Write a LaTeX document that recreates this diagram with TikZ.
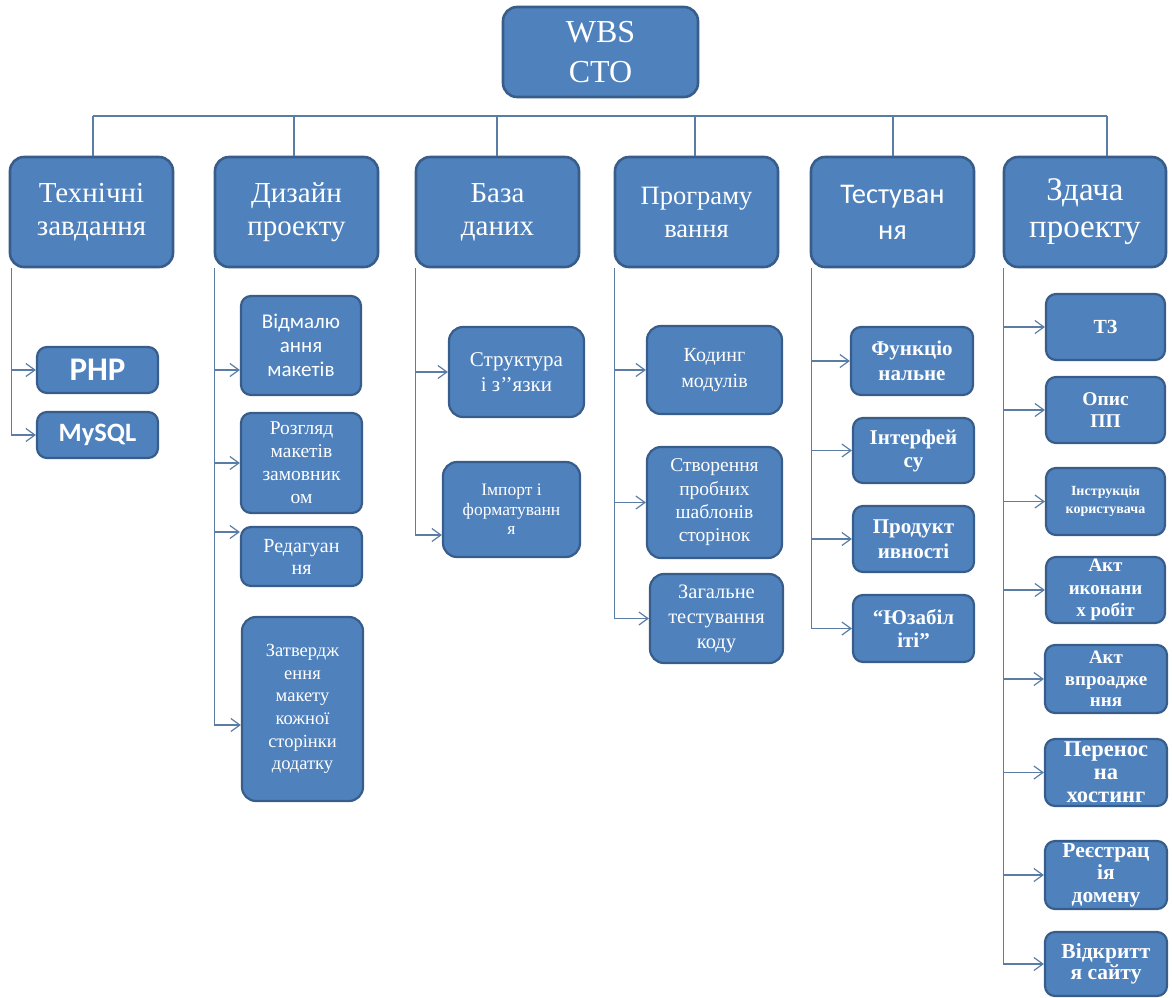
\documentclass[tikz,border=0pt]{standalone}
\usepackage{fontspec}
\setmainfont{Liberation Serif}
\newfontfamily\calfont{Carlito}
\usetikzlibrary{arrows.meta}
\definecolor{fillc}{HTML}{4F81BD}
\definecolor{bdr}{HTML}{385D8A}
\definecolor{linec}{HTML}{5A7DA6}
\newcommand\fs[2]{\fontsize{#1}{#2}\selectfont}
\newcommand\bx[7]{\node[box,#6,minimum width=#4,minimum height=#5] (#1) at (#2,#3) {#7};}
\tikzset{
  box/.style={draw=bdr, fill=fillc, line width=2.2pt, rounded corners=10pt, text=white, align=center, inner sep=0pt},
  lvlone/.style={rounded corners=14pt, line width=2.6pt, font=\fs{29}{33}},
  conn/.style={draw=linec, line width=1.2pt},
  arr/.style={conn, -{Straight Barb[length=9pt,width=13pt,line width=1.2pt]}},
}
\begin{document}
\begin{tikzpicture}[x=1pt,y=-1pt]
\useasboundingbox (0,0) rectangle (1172,997);
% root
\bx{wbs}{600.5}{52}{195}{90}{lvlone,font=\fs{32}{40}}{WBS\\CTO}
% level 1
\bx{t1}{91.5}{212}{163}{110}{lvlone}{Технічні\\завдання}
\bx{t2}{296.5}{212}{163}{110}{lvlone}{Дизайн\\проекту}
\bx{t3}{497.5}{212}{163}{110}{lvlone}{База\\даних}
\bx{t4}{696.5}{212}{163}{110}{lvlone,font=\fs{26.5}{33}}{Програму\\вання}
\bx{t5}{892.5}{212}{163}{110}{lvlone,font=\calfont\fs{28.5}{36}}{Тестуван\\ня}
\bx{t6}{1085}{212}{162}{110}{lvlone,font=\fs{33}{37}}{Здача\\проекту}
% bus
\coordinate (busL) at (93,116);
\coordinate (busR) at (1107,116);
\coordinate (d2) at (294,116);
\coordinate (d3) at (497,116);
\coordinate (d4) at (695,116);
\coordinate (d5) at (893,116);
\draw[conn] (busL) -- (busR);
\draw[conn] (busL) -- (busL |- t1.north);
\draw[conn] (d2) -- (d2 |- t2.north);
\draw[conn] (d3) -- (d3 |- t3.north);
\draw[conn] (d4) -- (d4 |- t4.north);
\draw[conn] (d5) -- (d5 |- t5.north);
\draw[conn] (busR) -- (busR |- t6.north);
% column 1
\bx{php}{97.5}{370}{121}{46}{font=\calfont\bfseries\fs{33}{36}}{PHP}
\bx{mysql}{97.5}{435}{121}{46}{font=\calfont\bfseries\fs{26.5}{30}}{MySQL}
\coordinate (s1) at ([xshift=3pt]t1.south west);
\draw[arr] (s1) |- (php.west);
\draw[arr] (s1) |- (mysql.west);
% column 2
\bx{vidm}{301}{345.5}{120}{99}{font=\calfont\fs{21}{24}}{Відмалю\\ання\\макетів}
\bx{rozg}{301.5}{463}{121}{100}{font=\fs{19.5}{23}}{Розгляд\\макетів\\замовник\\ом}
\bx{red}{301.5}{556.5}{121}{59}{font=\fs{20}{22}}{Редагуан\\ня}
\bx{zatv}{302.5}{709}{121}{184}{rounded corners=14pt,font=\fs{18.5}{22.6}}{Затвердж\\ення\\макету\\кожної\\сторінки\\додатку}
\coordinate (s2) at ([xshift=1pt]t2.south west);
\draw[arr] (s2) |- ([yshift=-24.5pt]vidm.west);
\draw[arr] (s2) |- (rozg.west);
\draw[arr] (s2) |- ([yshift=24.5pt]red.west);
\draw[arr] (s2) |- ([yshift=-16pt]zatv.west);
% column 3
\bx{strukt}{516.5}{372}{135}{90}{rounded corners=14pt,font=\fs{21}{25}}{Структура\\і з’’язки}
\bx{import}{511.5}{509.5}{137}{95}{rounded corners=14pt,font=\fs{17.5}{19.5}}{Імпорт і\\форматуванн\\я}
\coordinate (s3) at ([xshift=1pt]t3.south west);
\draw[arr] (s3) |- (strukt.west);
\draw[arr] (s3) |- ([yshift=-25.5pt]import.west);
% column 4
\bx{kod}{714.5}{370}{135}{88}{rounded corners=14pt,font=\fs{20}{26}}{Кодинг\\модулів}
\bx{stvor}{714.5}{502.5}{135}{111}{rounded corners=14pt,font=\fs{19.5}{23.3}}{Створення\\пробних\\шаблонів\\сторінок}
\bx{zagal}{716.5}{618.5}{133}{89}{rounded corners=14pt,font=\fs{20.5}{25}}{Загальне\\тестування\\коду}
\coordinate (s4) at ([xshift=1pt]t4.south west);
\draw[arr] (s4) |- (kod.west);
\draw[arr] (s4) |- (stvor.west);
\draw[arr] (s4) |- (zagal.west);
% column 5
\bx{func}{912}{361}{122}{68}{font=\bfseries\fs{21}{25}}{Функціо\\нальне}
\bx{intf}{913.5}{450.5}{121}{65}{font=\bfseries\fs{21}{23}}{Інтерфей\\су}
\bx{prod}{913.5}{539}{121}{66}{font=\bfseries\fs{21}{25}}{Продукт\\ивності}
\bx{uzab}{913.5}{628.5}{121}{67}{font=\bfseries\fs{21}{23}}{“Юзабіл\\іті”}
\coordinate (s5) at ([xshift=2pt]t5.south west);
\draw[arr] (s5) |- (func.west);
\draw[arr] (s5) |- (intf.west);
\draw[arr] (s5) |- (prod.west);
\draw[arr] (s5) |- (uzab.west);
% column 6
\bx{tz}{1105.5}{327}{119}{66}{font=\bfseries\fs{20}{22}}{ТЗ}
\bx{opys}{1105.5}{410}{119}{66}{font=\bfseries\fs{19.5}{21.7}}{Опис\\ПП}
\bx{instr}{1105.5}{501.5}{119}{67}{font=\bfseries\fs{14}{18}}{Інструкція\\користувача}
\bx{aktik}{1105.5}{590}{119}{66}{font=\bfseries\fs{19}{22.5}}{Акт\\иконани\\х робіт}
\bx{aktvp}{1106}{679}{122}{68}{font=\bfseries\fs{19}{21.7}}{Акт\\впроадже\\ння}
\bx{peren}{1106}{772.5}{122}{67}{font=\bfseries\fs{22.5}{23}}{Перенос\\на\\хостинг}
\bx{reestr}{1106}{875}{122}{68}{font=\bfseries\fs{21.5}{22.5}}{Реєстрац\\ія\\домену}
\bx{vidkr}{1106}{964}{122}{64}{font=\bfseries\fs{21.5}{21.5}}{Відкритт\\я сайту}
\coordinate (s6) at ([xshift=1pt]t6.south west);
\draw[arr] (s6) |- (tz.west);
\draw[arr] (s6) |- (opys.west);
\draw[arr] (s6) |- (instr.west);
\draw[arr] (s6) |- (aktik.west);
\draw[arr] (s6) |- (aktvp.west);
\draw[arr] (s6) |- (peren.west);
\draw[arr] (s6) |- (reestr.west);
\draw[arr] (s6) |- (vidkr.west);
\end{tikzpicture}
\end{document}
